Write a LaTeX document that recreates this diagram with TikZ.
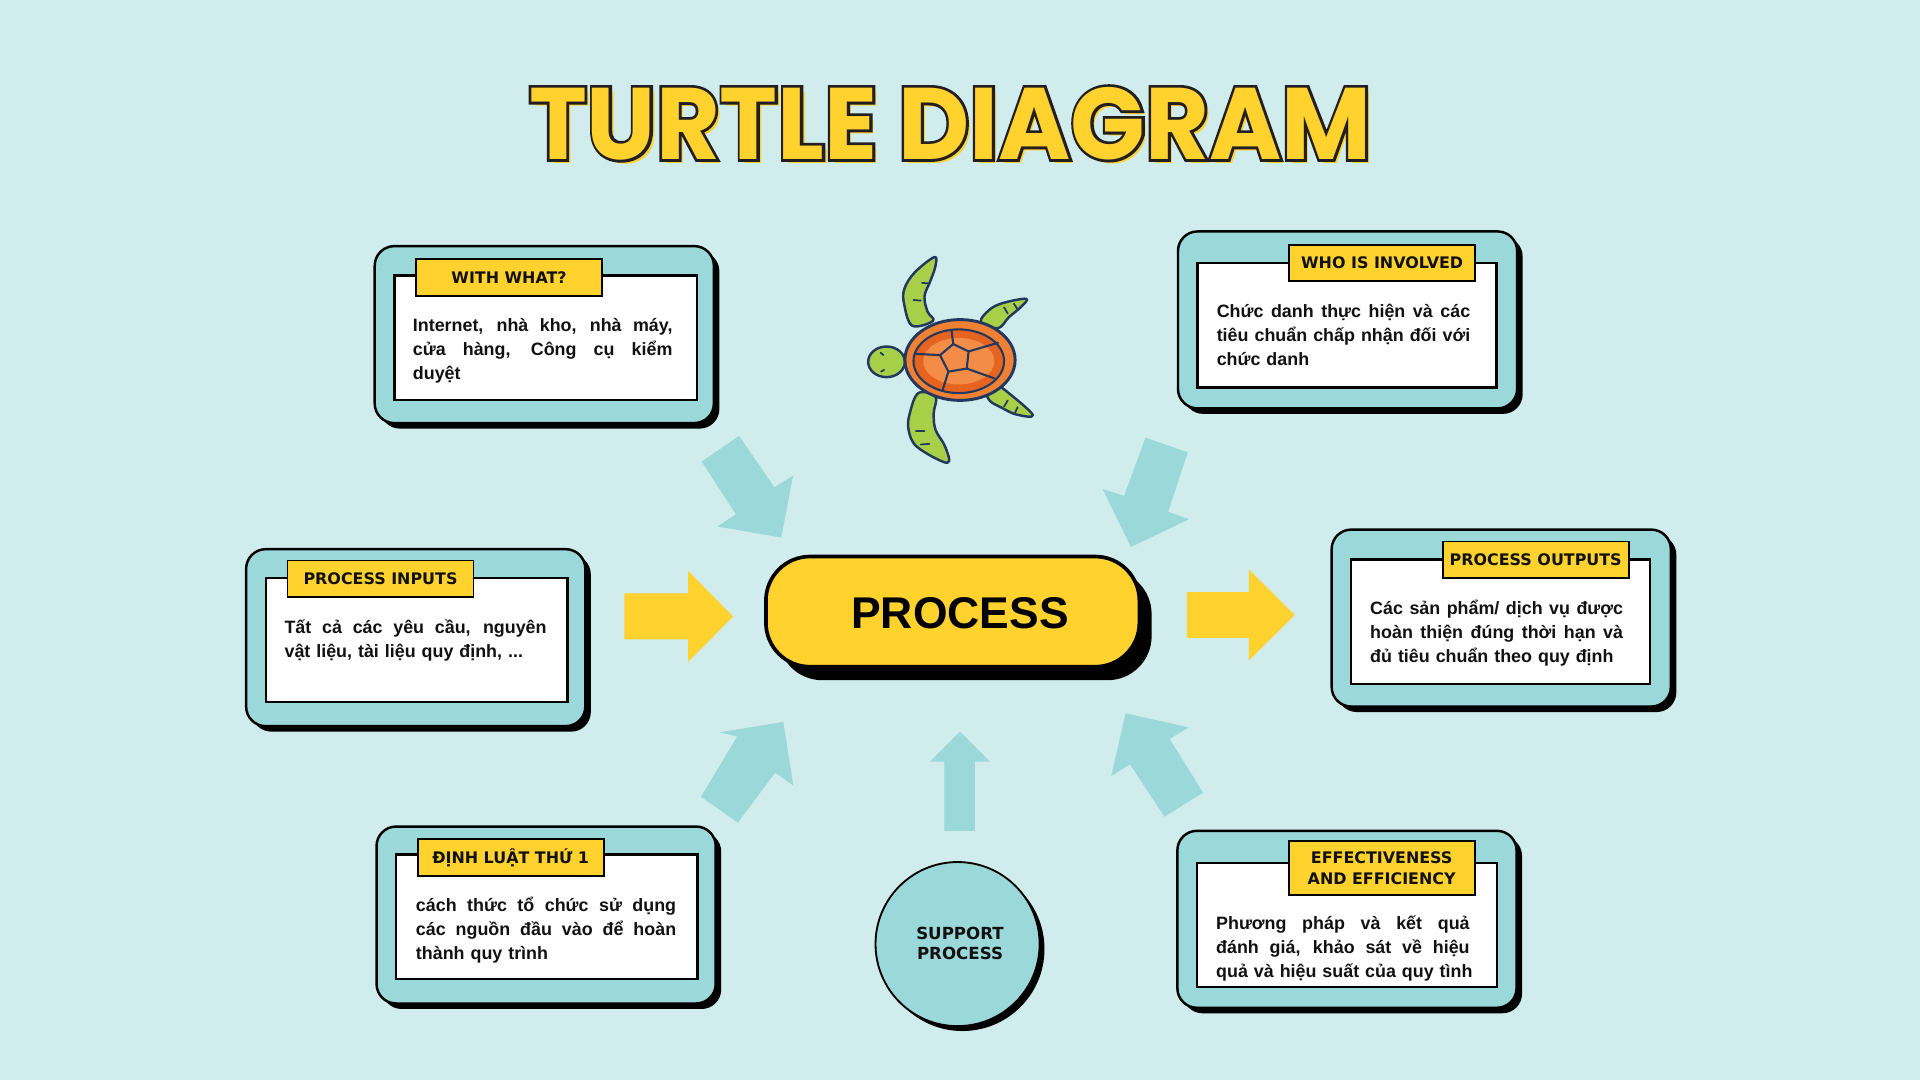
\documentclass[tikz,border=0pt]{standalone}
\usepackage{fontspec}
\setmainfont{Liberation Sans}
\newfontfamily\titlefont{Poppins}
\newfontfamily\titleoutline{Poppins}[FakeBold=5.5]
\newfontfamily\labelfont{DejaVu Sans}
\newfontfamily\bodyfont{Liberation Sans}
\usetikzlibrary{shadows}
\definecolor{bg}{RGB}{209,236,237}
\definecolor{boxteal}{RGB}{155,216,217}
\definecolor{yel}{RGB}{255,210,46}
\definecolor{ink}{RGB}{17,17,17}
\definecolor{outl}{RGB}{35,31,32}
\definecolor{tgreen}{RGB}{168,207,72}
\definecolor{tnavy}{RGB}{34,56,94}
\definecolor{torange}{RGB}{240,128,52}
\definecolor{tdark}{RGB}{230,100,32}
\definecolor{tlight}{RGB}{242,140,70}
\newcommand\jline[2]{\hbox to #1{\spaceskip=0.25em plus 1fil\relax #2}\par}
\newcommand\nline[1]{\hbox{#1}}
\begin{document}
\begin{tikzpicture}[x=1pt,y=-1pt,
  outerbox/.style={draw=black, line width=2pt, fill=boxteal, rounded corners=16pt,
    anchor=north west, inner sep=0pt, minimum width=277pt, minimum height=144.5pt,
    drop shadow={shadow xshift=4.5pt, shadow yshift=-4.5pt, fill=black, opacity=1}},
  innerbox/.style={draw=black, line width=2pt, fill=white, anchor=north west,
    inner sep=0pt, minimum width=246pt, minimum height=101.5pt},
  labelbox/.style={draw=black, line width=1.5pt, fill=yel, anchor=north west,
    inner sep=0pt, minimum width=152pt, minimum height=30pt, text=ink, align=center,
    font=\labelfont\bfseries\fontsize{13}{17}\selectfont},
  onel/.style={text height=9.5pt, text depth=0pt},
  bodytxt/.style={anchor=base west, inner sep=0pt, text width=#1, text=ink, align=left,
    font=\bodyfont\bfseries\fontsize{14.6}{19.6}\selectfont},
  tealarrow/.style={fill=boxteal},
  yelarrow/.style={fill=yel},
  procbox/.style={draw=black, line width=3pt, fill=yel, rounded corners=36pt,
    minimum width=305pt, minimum height=90pt, inner sep=0pt,
    drop shadow={shadow xshift=10pt, shadow yshift=-11pt, fill=black, opacity=1}},
  suptext/.style={align=center, text=ink, inner sep=0pt,
    font=\labelfont\bfseries\fontsize{13.6}{16.4}\selectfont},
  titlestyle/.style={anchor=base, inner sep=0pt, xscale=0.964,
    font=\titlefont\bfseries\fontsize{83}{83}\selectfont},
  titleline/.style={anchor=base, inner sep=0pt, xscale=0.964,
    font=\titleoutline\bfseries\fontsize{83}{83}\selectfont},
  flip/.style={fill=tgreen, draw=tnavy, line width=2pt, line join=round},
  vein/.style={draw=tnavy, line width=1.4pt, line cap=round}
]
\fill[bg] (0,0) rectangle (1568,882);
\useasboundingbox (0,0) rectangle (1568,882);

% ---------- block arrows ----------
\fill[yelarrow] (510,484.5) -- (562,484.5) -- (562,466.3) -- (598.7,503.5) -- (562,540.4) -- (562,522.1) -- (510,522.1) -- cycle;
\fill[yelarrow] (969.2,483.5) -- (1019.8,483.5) -- (1019.8,465) -- (1057.3,502.2) -- (1019.8,539.5) -- (1019.8,521) -- (969.2,521) -- cycle;
\fill[tealarrow] (638,439) -- (586,430) -- (601,420) -- (573,377) -- (603.6,356) -- (632.5,398) -- (647.6,388.5) -- cycle;
\fill[tealarrow] (923.6,446.7) -- (900.5,399.4) -- (918,405) -- (935.5,357.4) -- (970,369.4) -- (954,418) -- (971,424) -- cycle;
\fill[tealarrow] (639.7,589.6) -- (647.9,641.6) -- (633,631) -- (602.6,671.8) -- (572.5,650.6) -- (602,601.6) -- (588,598) -- cycle;
\fill[tealarrow] (919.2,582.5) -- (907.5,633.7) -- (922.9,624.2) -- (951,667) -- (982.5,647.3) -- (955.2,603.5) -- (970.7,594) -- cycle;
\fill[tealarrow] (784,597.5) -- (808.5,622) -- (796.2,622) -- (796.2,678.6) -- (771.3,678.6) -- (771.3,622) -- (759.5,622) -- cycle;

% ---------- box 1 : WITH WHAT? ----------
\node[outerbox] (o1) at (305,200) {};
\node[innerbox, minimum width=247pt] (i1) at (321,224) {};
\node[labelbox, onel] (l1) at (339,211) {WITH WHAT?};
\node[bodytxt=230pt] (t1) at (337,271) {\jline{212pt}{Internet, nhà kho, nhà máy,}\jline{212pt}{cửa hàng, Công cụ kiểm}\nline{duyệt}};

% ---------- box 2 : WHO IS INVOLVED ----------
\node[outerbox] (o2) at (961,188) {};
\node[innerbox, minimum width=244pt] (i2) at (977,214) {};
\node[labelbox, onel] (l2) at (1052,199) {WHO IS INVOLVED};
\node[bodytxt=225pt] (t2) at (993.5,259.2) {\jline{207pt}{Chức danh thực hiện và các}\jline{207pt}{tiêu chuẩn chấp nhận đối với}\nline{chức danh}};

% ---------- box 3 : PROCESS INPUTS ----------
\node[outerbox] (o3) at (200,447.5) {};
\node[innerbox] (i3) at (216.4,471) {};
\node[labelbox, onel] (l3) at (234,457) {PROCESS INPUTS};
\node[bodytxt=230pt] (t3) at (232.2,517.2) {\jline{214pt}{Tất cả các yêu cầu, nguyên}\nline{vật liệu, tài liệu quy định, ...}};

% ---------- box 4 : PROCESS OUTPUTS ----------
\node[outerbox] (o4) at (1086.5,431.5) {};
\node[innerbox, minimum width=244pt] (i4) at (1102.5,456) {};
\node[labelbox, onel] (l4) at (1177.4,441.5) {PROCESS OUTPUTS};
\node[bodytxt=225pt] (t4) at (1118.8,502.2) {\jline{206.5pt}{Các sản phẩm/ dịch vụ được}\jline{206.5pt}{hoàn thiện đúng thời hạn và}\nline{đủ tiêu chuẩn theo quy định}};

% ---------- box 5 : ĐỊNH LUẬT THỨ 1 ----------
\node[outerbox] (o5) at (306.5,674) {};
\node[innerbox] (i5) at (322.6,697) {};
\node[labelbox, onel] (l5) at (340.3,684.6) {ĐỊNH LUẬT THỨ 1};
\node[bodytxt=230pt] (t5) at (339.5,744) {\jline{212.5pt}{cách thức tổ chức sử dụng}\jline{212.5pt}{các nguồn đầu vào để hoàn}\nline{thành quy trình}};

% ---------- box 6 : EFFECTIVENESS AND EFFICIENCY ----------
\node[outerbox] (o6) at (960.5,677.5) {};
\node[innerbox, minimum width=245pt] (i6) at (976.7,703.7) {};
\node[labelbox, minimum height=44.3pt] (l6) at (1051.6,686) {EFFECTIVENESS\\AND EFFICIENCY};
\node[bodytxt=225pt] (t6) at (993,758.7) {\jline{207pt}{Phương pháp và kết quả}\jline{207pt}{đánh giá, khảo sát về hiệu}\nline{quả và hiệu suất của quy tình}};

% ---------- PROCESS ----------
\node[procbox] (proc) at (778,499.5) {};
\node[anchor=base, inner sep=0pt, text=black, font=\bodyfont\bfseries\fontsize{36.3}{40}\selectfont] (proctext) at (784,513.3) {PROCESS};

% ---------- SUPPORT PROCESS ----------
\node[circle, draw=black, line width=1.5pt, fill=boxteal, minimum size=134pt, inner sep=0pt,
  drop shadow={shadow xshift=4pt, shadow yshift=-4pt, fill=black, opacity=1}] (sup) at (782,771) {};
\node[suptext] (suptxt) at (784,770.5) {SUPPORT\\PROCESS};

% ---------- turtle ----------
\filldraw[flip] plot[smooth cycle, tension=0.6] coordinates {(745,266) (738.5,249) (738.5,236) (747,222.5) (763,210) (764,217) (760,229) (755,242) (757.5,254.5) (762,262)};
\filldraw[flip] plot[smooth cycle, tension=0.6] coordinates {(801,263) (808,253) (819,247.5) (838,244) (834,250.5) (824,259) (815,268)};
\filldraw[flip] plot[smooth cycle, tension=0.6] coordinates {(806,320) (814,315) (825,322) (843.5,339) (830,338.5) (818,333) (808.5,327.5)};
\filldraw[flip] plot[smooth cycle, tension=0.6] coordinates {(750,321) (743,337.5) (742,351) (749,365) (773.5,378) (772,365) (764,351) (762.5,337.5) (764,324)};
\draw[vein] (746,245) -- (752,245.5);
\draw[vein] (753,231) -- (759,231.5);
\draw[vein] (820,251) -- (823,256);
\draw[vein] (828,248) -- (831,252.5);
\draw[vein] (823,327) -- (820,332);
\draw[vein] (831,332.5) -- (829,337);
\draw[vein] (748,352) -- (755,352);
\draw[vein] (752,363) -- (759,362.5);
\filldraw[fill=tgreen, draw=tnavy, line width=2pt] (724,295.5) ellipse [x radius=15, y radius=12.5];
\draw[vein] (719,288) -- (721.5,290);
\draw[vein] (719.5,303.5) -- (722,302);
\filldraw[fill=torange, draw=tnavy, line width=2.4pt] (784,294) ellipse [x radius=45, y radius=33];
\filldraw[fill=tdark, draw=tnavy, line width=1.7pt] (783,295) ellipse [x radius=37, y radius=26];
\fill[tlight] (783,295) ellipse [x radius=29, y radius=19];
\draw[vein, line width=1.7pt, fill=tlight, line join=round] (778.5,281) -- (791,287) -- (789.5,301) -- (774.5,303.5) -- (767.7,290) -- cycle;
\draw[vein, line width=1.7pt] (778.5,281) -- (777,269.5);
\draw[vein, line width=1.7pt] (791,287) -- (815,280);
\draw[vein, line width=1.7pt] (789.5,301) -- (812,309);
\draw[vein, line width=1.7pt] (774.5,303.5) -- (770,318);
\draw[vein, line width=1.7pt] (767.7,290) -- (748,289);

% ---------- title ----------
\node[titlestyle, text=yel] (tshadow) at (779.5,133.5) {TURTLE DIAGRAM};
\node[titleline, text=outl] (toutline) at (776,130) {TURTLE DIAGRAM};
\node[titlestyle, text=yel] (title) at (776,130) {TURTLE DIAGRAM};
\end{tikzpicture}
\end{document}
